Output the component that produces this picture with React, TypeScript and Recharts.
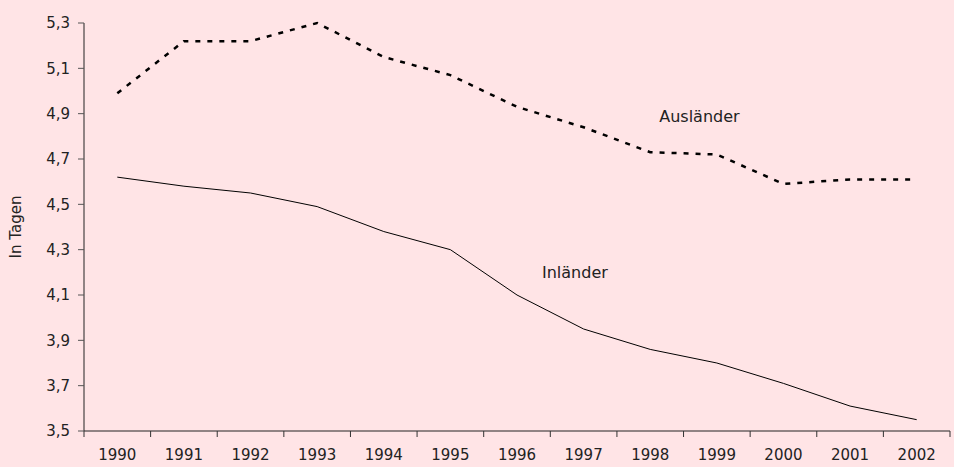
import React from 'react';
import { LineChart, Line, XAxis, YAxis, ReferenceDot } from 'recharts';

const years = ['1990', '1991', '1992', '1993', '1994', '1995', '1996', '1997', '1998', '1999', '2000', '2001', '2002'];
const auslaender = [4.99, 5.22, 5.22, 5.3, 5.15, 5.07, 4.93, 4.84, 4.73, 4.72, 4.59, 4.61, 4.61];
const inlaender = [4.62, 4.58, 4.55, 4.49, 4.38, 4.3, 4.1, 3.95, 3.86, 3.8, 3.71, 3.61, 3.55];
const yTicks = [3.5, 3.7, 3.9, 4.1, 4.3, 4.5, 4.7, 4.9, 5.1, 5.3];

const W = 954;
const H = 467;
const MARGIN = { top: 23, right: 4, bottom: 0, left: 0 };
const Y_WIDTH = 84;
const FONT = '"DejaVu Sans", sans-serif';

const data = years.map((year, i) => ({ year, aus: auslaender[i], inl: inlaender[i] }));

const fmt = (v: number) => v.toFixed(1).replace('.', ',');

// year labels in the middle of each band, tick marks on the band edges
const YearTick = (props: any) => {
  const { x, y, payload, index } = props;
  const half = (W - Y_WIDTH - MARGIN.right) / years.length / 2;
  return (
    <g>
      <line x1={x - half} y1={y} x2={x - half} y2={y + 6} stroke="#333" />
      {index === years.length - 1 && (
        <line x1={x + half} y1={y} x2={x + half} y2={y + 6} stroke="#333" />
      )}
      <text x={x} y={y + 29} textAnchor="middle" fontSize={15} fill="#222" fontFamily={FONT}>
        {payload.value}
      </text>
    </g>
  );
};

export default function App() {
  return (
    <div style={{ position: 'fixed', inset: 0, background: '#FFE4E6' }}>
      <LineChart width={W} height={H} data={data} margin={MARGIN}>
        <XAxis
          dataKey="year"
          scale="band"
          height={36}
          axisLine={{ stroke: '#222' }}
          tickLine={false}
          tickSize={0}
          tickMargin={0}
          tick={<YearTick />}
          interval={0}
        />
        <YAxis
          width={Y_WIDTH}
          domain={[3.5, 5.3]}
          ticks={yTicks}
          tickFormatter={fmt}
          axisLine={{ stroke: '#222' }}
          tickLine={{ stroke: '#555' }}
          tickSize={6}
          tickMargin={8}
          tick={{ fontSize: 15, fill: '#222', fontFamily: FONT }}
          label={{ value: 'In Tagen', angle: -90, position: 'insideLeft', offset: 16, style: { fontSize: 15, fill: '#222', fontFamily: FONT, textAnchor: 'middle' } }}
        />
        <Line dataKey="aus" stroke="#000" strokeWidth={2.5} strokeDasharray="5 7" dot={false} isAnimationActive={false} />
        <Line dataKey="inl" stroke="#000" strokeWidth={1} dot={false} isAnimationActive={false} />
        <ReferenceDot x="1998" y={4.89} r={0} stroke="none" label={{ value: 'Ausländer', position: 'right', offset: 9, style: { fontSize: 16, fill: '#222', fontFamily: FONT } }} />
        <ReferenceDot x="1996" y={4.2} r={0} stroke="none" label={{ value: 'Inländer', position: 'right', offset: 25, style: { fontSize: 16, fill: '#222', fontFamily: FONT } }} />
      </LineChart>
    </div>
  );
}
